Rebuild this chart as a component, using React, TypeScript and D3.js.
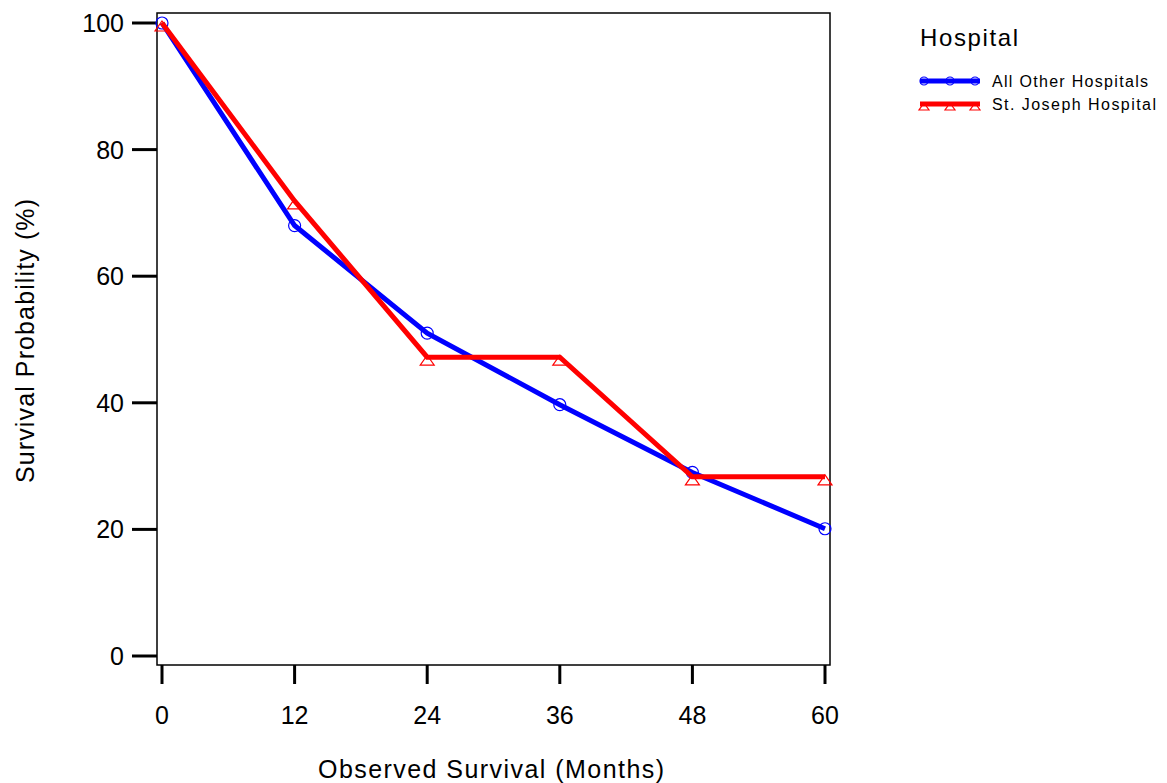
import React from 'react';
import * as d3 from 'd3';

const months = [0, 12, 24, 36, 48, 60];
const otherHospitals = [100, 68, 51, 39.7, 29, 20.1];
const stJoseph = [100, 71.9, 47.2, 47.2, 28.3, 28.3];
const yTicks = [0, 20, 40, 60, 80, 100];
const seriesNames = ['All Other Hospitals', 'St. Joseph Hospital'];

const W = 1167;
const H = 783;
const box = { left: 157, right: 830, top: 13, bottom: 665 };

const App: React.FC = () => {
  const x = d3.scaleLinear().domain([0, 60]).range([162, 825]);
  const y = d3.scaleLinear().domain([0, 100]).range([656, 23]);

  const line = d3.line<number>()
    .x((_, i) => x(months[i]))
    .y(d => y(d));

  const font = 'Liberation Sans, Arial, sans-serif';
  const tri = (cx: number, cy: number) =>
    `M${cx},${cy - 2} L${cx + 7},${cy + 8} L${cx - 7},${cy + 8} Z`;

  return (
    <svg width={W} height={H} style={{ position: 'absolute', left: 0, top: 0, background: '#fff' }} fontFamily={font}>
      <rect x={box.left} y={box.top} width={box.right - box.left} height={box.bottom - box.top}
        fill="none" stroke="#000" strokeWidth={1.5} />

      {/* y axis */}
      {yTicks.map(t => (
        <g key={t}>
          <line x1={132} x2={box.left} y1={y(t)} y2={y(t)} stroke="#000" strokeWidth={3} />
          <text x={124} y={y(t)} dy="0.36em" textAnchor="end" fontSize={25}>{t}</text>
        </g>
      ))}
      <text transform="translate(34,341) rotate(-90)" textAnchor="middle" fontSize={25}
        textLength={284} lengthAdjust="spacing">
        Survival Probability (%)
      </text>

      {/* x axis */}
      {months.map(m => (
        <g key={m}>
          <line x1={x(m)} x2={x(m)} y1={box.bottom} y2={684} stroke="#000" strokeWidth={3} />
          <text x={x(m)} y={724} textAnchor="middle" fontSize={25}>{m}</text>
        </g>
      ))}
      <text x={491} y={778} textAnchor="middle" fontSize={25} textLength={346} lengthAdjust="spacing">
        Observed Survival (Months)
      </text>

      {/* series */}
      <path d={line(otherHospitals) ?? ''} fill="none" stroke="#0000ff" strokeWidth={5} />
      {otherHospitals.map((v, i) => (
        <circle key={i} cx={x(months[i])} cy={y(v)} r={6} fill="none" stroke="#0000ff" strokeWidth={1.2} />
      ))}
      <path d={line(stJoseph) ?? ''} fill="none" stroke="#ff0000" strokeWidth={5} />
      {stJoseph.map((v, i) => (
        <path key={i} d={tri(x(months[i]), y(v))} fill="none" stroke="#ff0000" strokeWidth={1.2} />
      ))}

      {/* legend */}
      <text x={920} y={46} fontSize={24} textLength={98} lengthAdjust="spacing">Hospital</text>
      {seriesNames.map((name, i) => {
        const ly = 81 + i * 23;
        const color = i === 0 ? '#0000ff' : '#ff0000';
        return (
          <g key={name}>
            <line x1={920} x2={980} y1={ly} y2={ly} stroke={color} strokeWidth={5} />
            {[924, 950, 975].map(cx =>
              i === 0
                ? <circle key={cx} cx={cx} cy={ly} r={4} fill="none" stroke={color} strokeWidth={1.2} />
                : <path key={cx} d={`M${cx},${ly - 1} L${cx + 5},${ly + 6} L${cx - 5},${ly + 6} Z`} fill="none" stroke={color} strokeWidth={1.2} />
            )}
            <text x={992} y={ly} dy="0.35em" fontSize={16} textLength={i === 0 ? 156 : 164} lengthAdjust="spacing">{name}</text>
          </g>
        );
      })}
    </svg>
  );
};

export default App;
